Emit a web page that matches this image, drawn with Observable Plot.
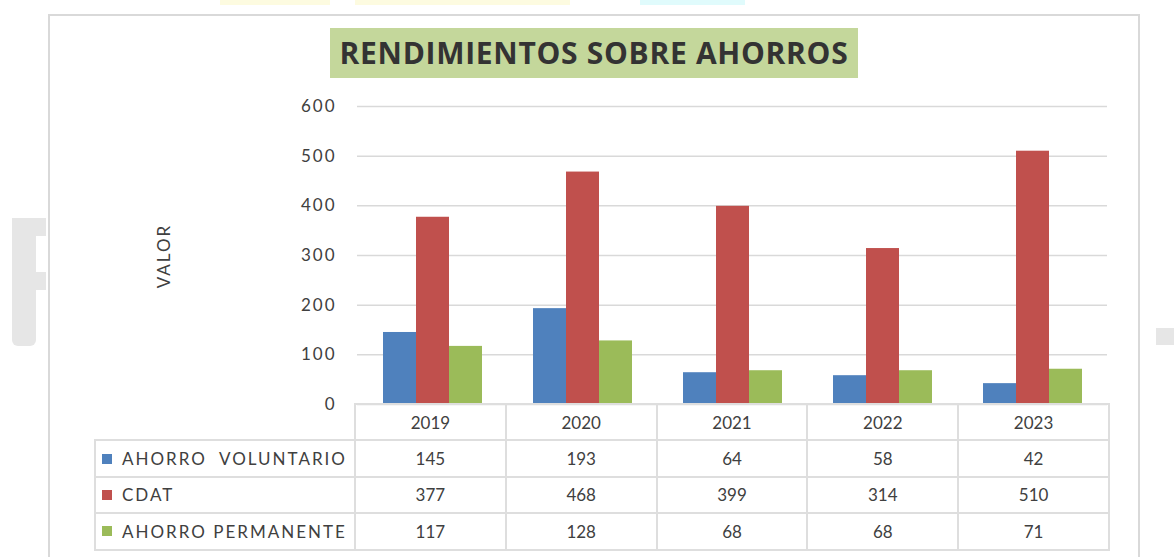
<!DOCTYPE html>
<html>
<head>
<meta charset="utf-8">
<script src="https://cdn.jsdelivr.net/npm/d3@7"></script>
<script src="https://cdn.jsdelivr.net/npm/@observablehq/plot@0.6"></script>
<style>
  html, body { margin: 0; padding: 0; background: #fff; width: 1174px; height: 557px; overflow: hidden; font-family: Lato, "Open Sans", sans-serif; }
  #frame { position: absolute; left: 48px; top: 14px; width: 1092px; height: 600px; border: 2px solid #d9d9d9; box-sizing: border-box; }
  #title { position: absolute; left: 330px; top: 28px; width: 528px; height: 50px; background: #c4d79b; color: #333; font-weight: bold; font-size: 30px; line-height: 50px; text-align: center; font-family: "Open Sans", Lato, sans-serif; letter-spacing: 0.7px; white-space: nowrap; }
  #ylabel { position: absolute; left: 163px; top: 256px; transform: translate(-50%, -50%) rotate(-90deg); font-size: 17px; letter-spacing: 2px; color: #404040; white-space: nowrap; }
  #chart { position: absolute; left: 0; top: 0; }
  .cell { position: absolute; box-sizing: border-box; border: 2px solid #dedede; color: #404040; font-size: 17px; display: flex; align-items: center; justify-content: center; }
  .lab { justify-content: flex-start; padding-left: 6px; letter-spacing: 2px; }
  .key { display: inline-block; width: 10px; height: 10px; margin-right: 10px; }
  .deco { position: absolute; background: #e6e6e6; }
</style>
</head>
<body>
<div class="deco" style="left:12px;top:218px;width:24px;height:128px;border-radius:6px;"></div>
<div class="deco" style="left:12px;top:218px;width:34px;height:18px;"></div>
<div class="deco" style="left:12px;top:272px;width:34px;height:18px;"></div>
<div class="deco" style="left:1156px;top:328px;width:18px;height:17px;"></div>
<div style="position:absolute;left:220px;top:0;width:110px;height:5px;background:#fdfbe0;"></div>
<div style="position:absolute;left:355px;top:0;width:215px;height:5px;background:#fdfbe0;"></div>
<div style="position:absolute;left:640px;top:0;width:105px;height:5px;background:#e0fbfc;"></div>
<div id="frame"></div>
<div id="chart"></div>
<div id="title">RENDIMIENTOS SOBRE AHORROS</div>
<div id="ylabel">VALOR</div>
<div id="table"></div>
<script>
const years = ["2019", "2020", "2021", "2022", "2023"];
const series = ["AHORRO  VOLUNTARIO", "CDAT", "AHORRO PERMANENTE"];
const voluntario = [145, 193, 64, 58, 42];
const cdat = [377, 468, 399, 314, 510];
const permanente = [117, 128, 68, 68, 71];
const colors = ["#4f81bd", "#c0504d", "#9bbb59"];
const yTicks = [0, 100, 200, 300, 400, 500, 600];

const valuesBySeries = [voluntario, cdat, permanente];
const data = [];
years.forEach((yr, i) => {
  series.forEach((s, j) => data.push({year: yr, series: s, value: valuesBySeries[j][i]}));
});

const W = 1174, mL = 355, mR = 65;
const chart = Plot.plot({
  width: W,
  height: 420,
  marginLeft: mL,
  marginRight: mR,
  marginTop: 106,
  marginBottom: 16,
  style: {fontFamily: "Lato, sans-serif", fontSize: "17px", color: "#404040", background: "transparent", overflow: "visible"},
  fx: {domain: years, padding: 0, axis: null},
  x: {domain: series, paddingInner: 0, paddingOuter: 0.75, axis: null},
  y: {domain: [0, 600], axis: null},
  color: {domain: series, range: colors},
  marks: [
    Plot.gridY(yTicks, {stroke: "#d9d9d9", strokeOpacity: 1, strokeWidth: 1.5}),
    Plot.axisY(yTicks, {tickSize: 0, tickPadding: 21, label: null, fill: "#404040"}),
    Plot.barY(data, {fx: "year", x: "series", y: "value", fill: "series"})
  ]
});
chart.querySelectorAll("g[aria-label='y-axis tick label'] text").forEach(t => t.setAttribute("letter-spacing", "2"));
document.getElementById("chart").appendChild(chart);

// Data table below the chart, built from the same arrays
const table = document.getElementById("table");
const colW = (W - mL - mR) / years.length;
const top0 = 403, rowH = 36.4, labL = 94;
function cell(x, y, w, h, html, cls) {
  const d = document.createElement("div");
  d.className = "cell" + (cls ? " " + cls : "");
  d.style.left = x + "px"; d.style.top = y + "px";
  d.style.width = (w + 2) + "px"; d.style.height = (h + 2) + "px";
  d.innerHTML = html;
  table.appendChild(d);
}
years.forEach((yr, i) => cell(mL + i * colW - 1, top0, colW, rowH, yr));
series.forEach((s, j) => {
  const y = top0 + (j + 1) * rowH;
  cell(labL, y, mL - labL - 1, rowH,
    `<span class="key" style="background:${colors[j]}"></span><span style="white-space:pre">${s}</span>`, "lab");
  years.forEach((yr, i) => cell(mL + i * colW - 1, y, colW, rowH, valuesBySeries[j][i]));
});
</script>
</body>
</html>
